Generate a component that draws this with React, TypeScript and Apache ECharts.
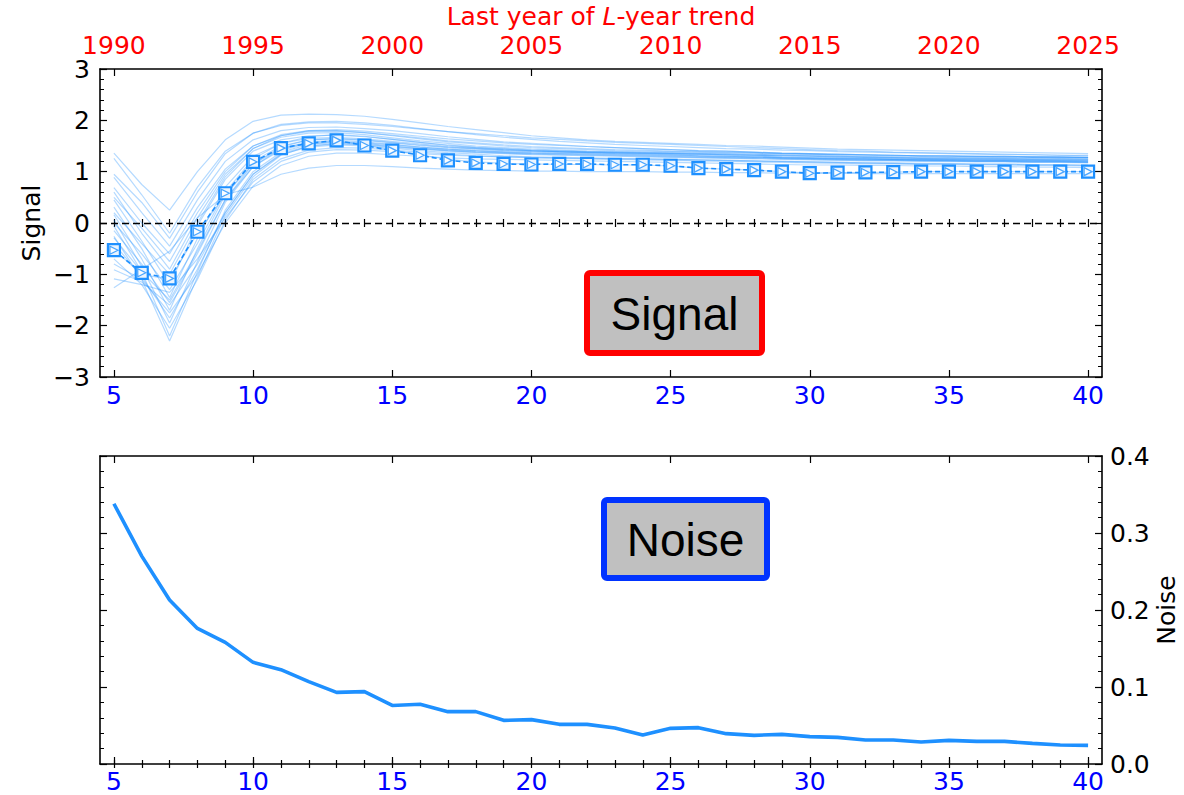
import React, { useEffect, useRef } from 'react';
import * as echarts from 'echarts';

// ---------- data ----------
const trendLengths = [5, 6, 7, 8, 9, 10, 11, 12, 13, 14, 15, 16, 17, 18, 19, 20, 21, 22, 23, 24, 25, 26, 27, 28, 29, 30, 31, 32, 33, 34, 35, 36, 37, 38, 39, 40];

const signalMean = [-0.53, -0.97, -1.08, -0.17, 0.58, 1.19, 1.46, 1.55, 1.61, 1.51, 1.41, 1.32, 1.22, 1.17, 1.15, 1.14, 1.15, 1.15, 1.135, 1.135, 1.115, 1.07, 1.05, 1.03, 1.0, 0.97, 0.98, 0.985, 0.99, 1.0, 1.0, 1.0, 1.0, 1.0, 1.0, 1.0];

const member01 = [1.36, 0.75, 0.25, 1.0, 1.62, 1.98, 2.1, 2.12, 2.11, 2.08, 2.02, 1.95, 1.88, 1.82, 1.76, 1.7, 1.66, 1.62, 1.59, 1.57, 1.55, 1.53, 1.51, 1.5, 1.48, 1.46, 1.44, 1.43, 1.42, 1.41, 1.4, 1.39, 1.38, 1.37, 1.36, 1.35];
const member02 = [1.26, 0.55, -0.2, 0.7, 1.4, 1.75, 1.9, 1.95, 1.95, 1.92, 1.88, 1.83, 1.78, 1.74, 1.7, 1.66, 1.63, 1.6, 1.57, 1.55, 1.53, 1.51, 1.49, 1.47, 1.45, 1.43, 1.41, 1.4, 1.38, 1.37, 1.36, 1.35, 1.34, 1.33, 1.32, 1.31];
const member03 = [0.89, 0.2, -0.45, 0.45, 1.2, 1.62, 1.8, 1.86, 1.87, 1.84, 1.8, 1.74, 1.68, 1.63, 1.58, 1.55, 1.52, 1.49, 1.47, 1.45, 1.43, 1.41, 1.4, 1.38, 1.36, 1.35, 1.34, 1.33, 1.32, 1.31, 1.31, 1.3, 1.3, 1.29, 1.29, 1.28];
const member04 = [0.69, 0.0, -0.6, 0.3, 1.05, 1.5, 1.7, 1.78, 1.79, 1.76, 1.71, 1.66, 1.6, 1.56, 1.52, 1.49, 1.47, 1.45, 1.43, 1.42, 1.4, 1.39, 1.38, 1.37, 1.35, 1.34, 1.33, 1.33, 1.32, 1.31, 1.31, 1.3, 1.3, 1.29, 1.29, 1.28];
const member05 = [0.6, -0.2, -0.9, 0.1, 0.95, 1.45, 1.67, 1.75, 1.76, 1.72, 1.66, 1.6, 1.55, 1.5, 1.47, 1.44, 1.42, 1.4, 1.39, 1.38, 1.37, 1.36, 1.35, 1.34, 1.33, 1.32, 1.31, 1.3, 1.29, 1.29, 1.28, 1.28, 1.27, 1.27, 1.26, 1.26];
const member06 = [0.45, -0.35, -1.2, -0.05, 0.85, 1.4, 1.62, 1.7, 1.71, 1.68, 1.63, 1.57, 1.52, 1.48, 1.45, 1.42, 1.41, 1.39, 1.38, 1.37, 1.36, 1.35, 1.34, 1.33, 1.32, 1.31, 1.3, 1.29, 1.28, 1.27, 1.27, 1.26, 1.26, 1.25, 1.25, 1.24];
const member07 = [0.31, -0.5, -1.45, -0.3, 0.7, 1.3, 1.55, 1.65, 1.67, 1.64, 1.59, 1.54, 1.49, 1.46, 1.43, 1.41, 1.39, 1.38, 1.37, 1.36, 1.35, 1.34, 1.33, 1.32, 1.31, 1.3, 1.29, 1.28, 1.27, 1.26, 1.26, 1.25, 1.25, 1.24, 1.24, 1.23];
const member08 = [0.16, -0.7, -1.7, -0.5, 0.55, 1.2, 1.5, 1.62, 1.64, 1.61, 1.56, 1.51, 1.47, 1.44, 1.41, 1.39, 1.38, 1.37, 1.36, 1.35, 1.34, 1.33, 1.32, 1.31, 1.29, 1.28, 1.27, 1.26, 1.25, 1.24, 1.24, 1.23, 1.23, 1.22, 1.22, 1.21];
const member09 = [0.06, -0.85, -1.95, -0.75, 0.4, 1.1, 1.45, 1.58, 1.61, 1.58, 1.53, 1.48, 1.44, 1.41, 1.39, 1.37, 1.36, 1.35, 1.34, 1.33, 1.32, 1.31, 1.3, 1.29, 1.28, 1.27, 1.26, 1.25, 1.24, 1.24, 1.23, 1.23, 1.22, 1.22, 1.21, 1.21];
const member10 = [-0.06, -0.95, -2.2, -0.95, 0.25, 1.0, 1.38, 1.53, 1.57, 1.55, 1.5, 1.46, 1.42, 1.39, 1.37, 1.35, 1.34, 1.33, 1.32, 1.31, 1.3, 1.29, 1.28, 1.27, 1.26, 1.25, 1.24, 1.23, 1.23, 1.22, 1.22, 1.21, 1.21, 1.2, 1.2, 1.19];
const member11 = [-0.26, -1.1, -2.3, -1.05, 0.15, 0.9, 1.32, 1.5, 1.55, 1.53, 1.49, 1.45, 1.41, 1.38, 1.36, 1.34, 1.33, 1.32, 1.31, 1.3, 1.29, 1.28, 1.27, 1.26, 1.25, 1.24, 1.23, 1.22, 1.22, 1.21, 1.21, 1.2, 1.2, 1.19, 1.19, 1.18];
const member12 = [-0.29, -0.95, -1.5, -0.55, 0.45, 1.15, 1.48, 1.62, 1.65, 1.62, 1.57, 1.52, 1.48, 1.45, 1.42, 1.4, 1.39, 1.38, 1.37, 1.36, 1.35, 1.34, 1.33, 1.32, 1.31, 1.3, 1.29, 1.28, 1.27, 1.26, 1.25, 1.25, 1.24, 1.24, 1.23, 1.23];
const member13 = [-0.91, -1.15, -1.6, -0.8, 0.2, 0.95, 1.35, 1.5, 1.54, 1.52, 1.48, 1.44, 1.4, 1.37, 1.35, 1.33, 1.32, 1.31, 1.3, 1.29, 1.28, 1.27, 1.26, 1.25, 1.24, 1.23, 1.22, 1.21, 1.21, 1.2, 1.2, 1.19, 1.19, 1.18, 1.18, 1.17];
const member14 = [-1.09, -1.2, -1.35, -0.7, 0.1, 0.8, 1.2, 1.38, 1.43, 1.42, 1.39, 1.35, 1.32, 1.3, 1.29, 1.28, 1.27, 1.26, 1.25, 1.25, 1.24, 1.23, 1.22, 1.21, 1.2, 1.19, 1.18, 1.17, 1.17, 1.16, 1.16, 1.15, 1.15, 1.14, 1.14, 1.13];
const member15 = [-1.26, -0.9, -0.55, 0.1, 0.55, 0.7, 0.95, 1.07, 1.12, 1.12, 1.1, 1.07, 1.05, 1.03, 1.02, 1.01, 1.01, 1.0, 1.0, 1.0, 0.99, 0.99, 0.98, 0.98, 0.97, 0.97, 0.97, 0.96, 0.96, 0.96, 0.96, 0.96, 0.96, 0.96, 0.96, 0.96];
const member16 = [-0.52, -1.0, -1.1, -0.2, 0.55, 1.15, 1.45, 1.56, 1.6, 1.52, 1.42, 1.33, 1.24, 1.19, 1.16, 1.15, 1.14, 1.14, 1.13, 1.13, 1.11, 1.07, 1.05, 1.03, 1.0, 0.97, 0.98, 0.98, 0.99, 1.0, 1.0, 1.0, 1.0, 1.0, 1.0, 1.0];
const member17 = [0.2, -0.4, -1.0, 0.0, 0.9, 1.45, 1.7, 1.8, 1.82, 1.79, 1.74, 1.69, 1.64, 1.6, 1.56, 1.53, 1.51, 1.49, 1.47, 1.45, 1.43, 1.41, 1.4, 1.38, 1.36, 1.35, 1.34, 1.33, 1.32, 1.31, 1.3, 1.3, 1.29, 1.29, 1.28, 1.28];
const member18 = [0.0, -0.6, -1.3, -0.4, 0.6, 1.25, 1.55, 1.68, 1.72, 1.69, 1.63, 1.57, 1.51, 1.47, 1.44, 1.41, 1.39, 1.37, 1.35, 1.34, 1.33, 1.31, 1.3, 1.29, 1.27, 1.26, 1.25, 1.24, 1.23, 1.22, 1.21, 1.2, 1.2, 1.19, 1.19, 1.18];
const member19 = [-0.4, -1.05, -1.85, -0.9, 0.2, 0.95, 1.33, 1.48, 1.52, 1.5, 1.46, 1.41, 1.37, 1.34, 1.31, 1.29, 1.28, 1.27, 1.26, 1.25, 1.24, 1.23, 1.22, 1.21, 1.2, 1.19, 1.18, 1.17, 1.16, 1.15, 1.15, 1.14, 1.14, 1.13, 1.13, 1.12];
const member20 = [-0.7, -1.2, -2.05, -1.1, 0.05, 0.85, 1.25, 1.42, 1.47, 1.46, 1.42, 1.38, 1.34, 1.31, 1.29, 1.27, 1.26, 1.25, 1.24, 1.23, 1.22, 1.21, 1.2, 1.19, 1.18, 1.17, 1.16, 1.15, 1.15, 1.14, 1.14, 1.13, 1.13, 1.12, 1.12, 1.11];
const member21 = [-0.8, -1.1, -1.75, -1.0, 0.0, 0.72, 1.12, 1.3, 1.36, 1.36, 1.33, 1.3, 1.27, 1.25, 1.24, 1.23, 1.22, 1.21, 1.2, 1.19, 1.18, 1.17, 1.16, 1.15, 1.14, 1.13, 1.13, 1.12, 1.12, 1.11, 1.11, 1.1, 1.1, 1.09, 1.09, 1.08];
const member22 = [0.95, 0.4, -0.3, 0.6, 1.35, 1.75, 1.92, 1.97, 1.98, 1.95, 1.9, 1.84, 1.78, 1.72, 1.67, 1.63, 1.59, 1.56, 1.53, 1.51, 1.49, 1.47, 1.45, 1.44, 1.42, 1.41, 1.39, 1.38, 1.37, 1.36, 1.35, 1.34, 1.33, 1.33, 1.32, 1.32];
const member23 = [-0.15, -0.8, -1.55, -0.6, 0.45, 1.1, 1.42, 1.55, 1.58, 1.56, 1.52, 1.48, 1.44, 1.41, 1.38, 1.36, 1.35, 1.34, 1.33, 1.32, 1.31, 1.3, 1.29, 1.28, 1.27, 1.26, 1.25, 1.25, 1.24, 1.23, 1.23, 1.22, 1.22, 1.21, 1.21, 1.2];
const member24 = [0.5, -0.1, -0.75, 0.2, 1.0, 1.5, 1.72, 1.8, 1.8, 1.76, 1.7, 1.64, 1.58, 1.54, 1.5, 1.47, 1.45, 1.43, 1.41, 1.4, 1.39, 1.38, 1.37, 1.36, 1.35, 1.34, 1.33, 1.32, 1.31, 1.3, 1.3, 1.29, 1.29, 1.28, 1.28, 1.27];

const ensembleMembers = [member01, member02, member03, member04, member05, member06, member07, member08, member09, member10, member11, member12, member13, member14, member15, member16, member17, member18, member19, member20, member21, member22, member23, member24];

const noiseValues = [0.338, 0.27, 0.213, 0.176, 0.158, 0.132, 0.1225, 0.107, 0.093, 0.094, 0.076, 0.0775, 0.068, 0.068, 0.0567, 0.0576, 0.0515, 0.0515, 0.0468, 0.0377, 0.0463, 0.0472, 0.0394, 0.0372, 0.0385, 0.0355, 0.0346, 0.0312, 0.0312, 0.0286, 0.0307, 0.0294, 0.0294, 0.0268, 0.0247, 0.0242];

const xMajorTicks = [5, 10, 15, 20, 25, 30, 35, 40];
const xMinorTicks = [5, 6, 7, 8, 9, 10, 11, 12, 13, 14, 15, 16, 17, 18, 19, 20, 21, 22, 23, 24, 25, 26, 27, 28, 29, 30, 31, 32, 33, 34, 35, 36, 37, 38, 39, 40];
const yearLabels = ['1990', '1995', '2000', '2005', '2010', '2015', '2020', '2025'];

// ---------- styling ----------
const FONT = 'DejaVu Sans';
const FS = 25;
const BOX_FONT = 'Liberation Sans, Arial, sans-serif';
const LINE_BLUE = '#1e90ff';

const axisLine = { show: true, onZero: false, lineStyle: { color: '#000', width: 1.6 } };

function xAxisDef(gridIndex: number, position: string, ticks: number[], tickLen: number, withLine: boolean, label: any, extra: any = {}) {
  return {
    type: 'value',
    gridIndex,
    position,
    min: 4.5,
    max: 40.5,
    axisLine: withLine ? axisLine : { show: false },
    axisTick: { show: true, inside: true, length: tickLen, customValues: ticks, lineStyle: { color: '#000', width: 1.2 } },
    axisLabel: label,
    splitLine: { show: false },
    ...extra,
  };
}

function yAxisDef(gridIndex: number, position: string, min: number, max: number, interval: number, label: any, extra: any = {}) {
  return {
    type: 'value',
    gridIndex,
    position,
    min,
    max,
    interval,
    axisLine,
    axisTick: { show: true, inside: true, length: 7, lineStyle: { color: '#000', width: 1.2 } },
    minorTick: { show: true, splitNumber: 5, length: 4, lineStyle: { color: '#000', width: 1 } },
    axisLabel: label,
    splitLine: { show: false },
    minorSplitLine: { show: false },
    ...extra,
  };
}

const blueLabel = { show: true, customValues: xMajorTicks, color: '#0000ff', fontSize: FS, fontFamily: FONT, margin: 6 };
const noLabel = { show: false };

export default function App() {
  const ref = useRef<HTMLDivElement>(null);

  useEffect(() => {
    const chart = echarts.init(ref.current as HTMLDivElement, null, { renderer: 'svg' });

    const minusFmt = (v: number) => (v < 0 ? '\u2212' + Math.abs(v) : String(v));

    const ensembleSeries = ensembleMembers.map((m, k) => ({
      type: 'line',
      name: 'member' + (k + 1),
      xAxisIndex: 0,
      yAxisIndex: 0,
      data: trendLengths.map((l, i) => [l, m[i]]),
      symbol: 'none',
      silent: true,
      lineStyle: { color: LINE_BLUE, width: 1.2, opacity: 0.33 },
      z: 2,
    }));

    const option: any = {
      animation: false,
      backgroundColor: '#fff',
      grid: [
        { left: 100, top: 69, width: 1002, height: 308, containLabel: false, outerBoundsMode: 'none' },
        { left: 100, top: 456, width: 1002, height: 308, containLabel: false, outerBoundsMode: 'none' },
      ],
      xAxis: [
        xAxisDef(0, 'bottom', xMajorTicks, 7, true, blueLabel),
        xAxisDef(0, 'bottom', xMinorTicks, 4, false, noLabel),
        xAxisDef(0, 'top', xMajorTicks, 7, true, {
          show: true,
          customValues: xMajorTicks,
          color: '#ff0000',
          fontSize: FS,
          fontFamily: FONT,
          margin: 11,
          formatter: (v: number) => yearLabels[xMajorTicks.indexOf(v)] ?? '',
        }, {
          name: '{a|Last year of }{b|L}{a|-year trend}',
          nameLocation: 'middle',
          nameGap: 40,
          nameMoveOverlap: false,
          nameTextStyle: {
            color: '#ff0000',
            fontSize: FS,
            fontFamily: FONT,
            rich: {
              a: { color: '#ff0000', fontSize: FS, fontFamily: FONT },
              b: { color: '#ff0000', fontSize: FS, fontFamily: FONT, fontStyle: 'italic' },
            },
          },
        }),
        xAxisDef(0, 'top', xMinorTicks, 4, false, noLabel),
        xAxisDef(1, 'bottom', xMajorTicks, 7, true, { ...blueLabel, margin: 5 }),
        xAxisDef(1, 'bottom', xMinorTicks, 4, false, noLabel),
        xAxisDef(1, 'top', xMajorTicks, 7, true, noLabel),
        xAxisDef(1, 'top', xMinorTicks, 4, false, noLabel),
      ],
      yAxis: [
        yAxisDef(0, 'left', -3, 3, 1, { show: true, color: '#000', fontSize: FS, fontFamily: FONT, margin: 10, formatter: minusFmt }, {
          name: 'Signal',
          nameLocation: 'middle',
          nameRotate: 90,
          nameGap: 56,
          nameMoveOverlap: false,
          nameTextStyle: { color: '#000', fontSize: FS, fontFamily: FONT },
        }),
        yAxisDef(0, 'right', -3, 3, 1, noLabel),
        yAxisDef(1, 'left', 0, 0.4, 0.1, noLabel),
        yAxisDef(1, 'right', 0, 0.4, 0.1, { show: true, color: '#000', fontSize: FS, fontFamily: FONT, margin: 8, formatter: (v: number) => v.toFixed(1) }, {
          name: 'Noise',
          nameLocation: 'middle',
          nameRotate: 90,
          nameGap: 52,
          nameMoveOverlap: false,
          nameTextStyle: { color: '#000', fontSize: FS, fontFamily: FONT },
        }),
      ],
      series: [
        ...ensembleSeries,
        {
          type: 'line',
          name: 'signal',
          xAxisIndex: 0,
          yAxisIndex: 0,
          data: trendLengths.map((l, i) => [l, signalMean[i]]),
          symbol: 'rect',
          symbolSize: 12,
          itemStyle: { color: '#eaf4ff', borderColor: LINE_BLUE, borderWidth: 2.2 },
          lineStyle: { color: LINE_BLUE, width: 1.6, type: [5, 3] },
          z: 5,
          markLine: {
            silent: true,
            symbol: ['none', 'none'],
            label: { show: false },
            lineStyle: { color: '#000', width: 1.4, type: [7, 4] },
            data: [{ yAxis: 0 }],
          },
        },
        {
          type: 'scatter',
          name: 'signal-tri',
          xAxisIndex: 0,
          yAxisIndex: 0,
          data: trendLengths.map((l, i) => [l, signalMean[i]]),
          symbol: 'triangle',
          symbolRotate: -90,
          symbolSize: 8,
          itemStyle: { color: '#ffffff', borderColor: LINE_BLUE, borderWidth: 1.3 },
          z: 6,
        },
        {
          type: 'line',
          name: 'noise',
          xAxisIndex: 4,
          yAxisIndex: 3,
          data: trendLengths.map((l, i) => [l, noiseValues[i]]),
          symbol: 'none',
          lineStyle: { color: LINE_BLUE, width: 3.6 },
          z: 5,
        },
      ],
      graphic: [
        {
          type: 'rect',
          shape: { x: 587, y: 273, width: 175, height: 80, r: 3 },
          style: { fill: '#c0c0c0', stroke: '#ff0000', lineWidth: 6 },
          z: 100,
        },
        {
          type: 'text',
          x: 674.5,
          y: 314,
          style: { text: 'Signal', fontSize: 46, fontFamily: BOX_FONT, fill: '#000', align: 'center', verticalAlign: 'middle' },
          z: 101,
        },
        {
          type: 'rect',
          shape: { x: 604, y: 500, width: 163, height: 78, r: 3 },
          style: { fill: '#c0c0c0', stroke: '#0033ff', lineWidth: 6 },
          z: 100,
        },
        {
          type: 'text',
          x: 685.5,
          y: 540,
          style: { text: 'Noise', fontSize: 46, fontFamily: BOX_FONT, fill: '#000', align: 'center', verticalAlign: 'middle' },
          z: 101,
        },
      ],
    };

    chart.setOption(option);
    return () => chart.dispose();
  }, []);

  return <div ref={ref} style={{ position: 'absolute', left: 0, top: 0, width: 1184, height: 795 }} />;
}
